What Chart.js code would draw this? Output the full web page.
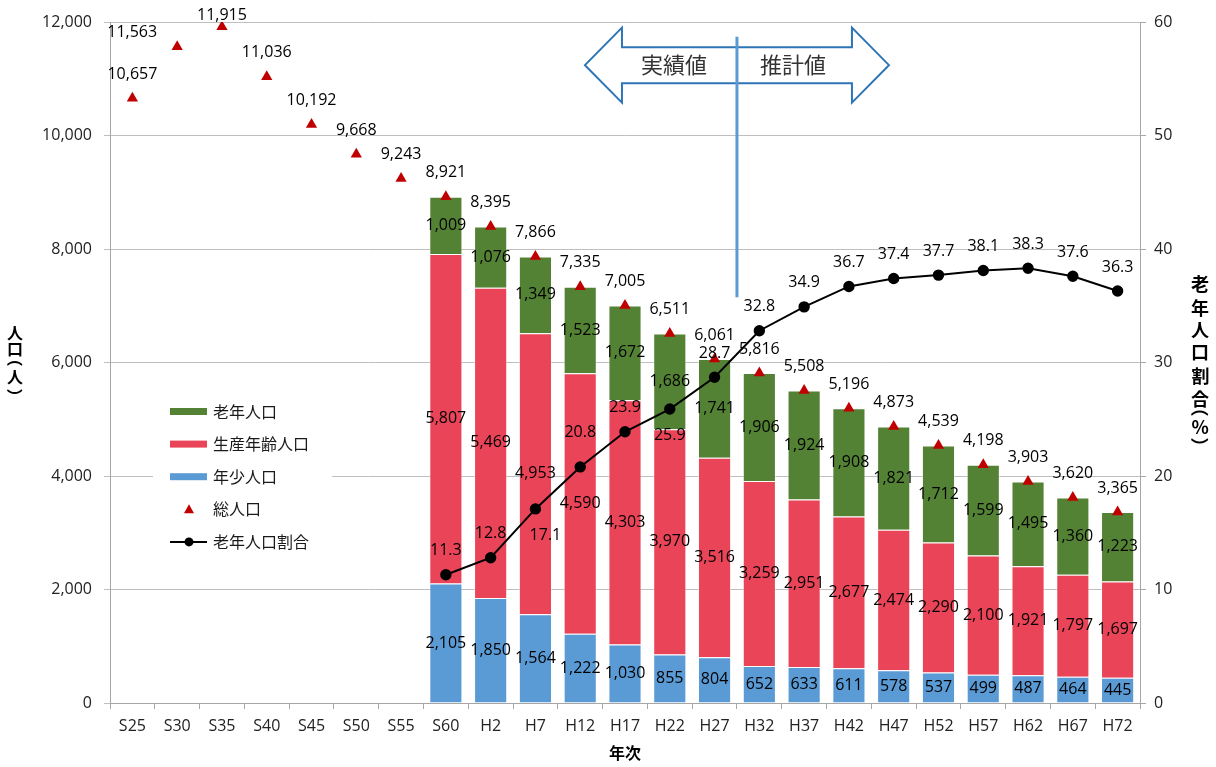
<!DOCTYPE html>
<html lang="ja">
<head>
<meta charset="utf-8">
<script src="https://cdn.jsdelivr.net/npm/chart.js@4.4.1/dist/chart.umd.min.js"></script>
<style>
  html, body { margin: 0; padding: 0; background: #fff; }
</style>
</head>
<body>
<canvas id="myChart" width="1216" height="767"></canvas>
<script>
const years = ['S25', 'S30', 'S35', 'S40', 'S45', 'S50', 'S55', 'S60', 'H2', 'H7', 'H12', 'H17',
    'H22', 'H27', 'H32', 'H37', 'H42', 'H47', 'H52', 'H57', 'H62', 'H67', 'H72'];
const total = [10657, 11563, 11915, 11036, 10192, 9668, 9243, 8921, 8395, 7866, 7335, 7005,
    6511, 6061, 5816, 5508, 5196, 4873, 4539, 4198, 3903, 3620, 3365];
const young = [null, null, null, null, null, null, null, 2105, 1850, 1564, 1222, 1030,
    855, 804, 652, 633, 611, 578, 537, 499, 487, 464, 445];
const working = [null, null, null, null, null, null, null, 5807, 5469, 4953, 4590, 4303,
    3970, 3516, 3259, 2951, 2677, 2474, 2290, 2100, 1921, 1797, 1697];
const elderly = [null, null, null, null, null, null, null, 1009, 1076, 1349, 1523, 1672,
    1686, 1741, 1906, 1924, 1908, 1821, 1712, 1599, 1495, 1360, 1223];
const ratio = [null, null, null, null, null, null, null, 11.3, 12.8, 17.1, 20.8, 23.9,
    25.9, 28.7, 32.8, 34.9, 36.7, 37.4, 37.7, 38.1, 38.3, 37.6, 36.3];

const jpFont = '"Noto Sans CJK JP", sans-serif';
const numFont = '"Open Sans", sans-serif';

// value labels, drawn over everything
const valueLabels = {
    id: 'valueLabels',
    afterDatasetsDraw(chart) {
        let ctx = chart.ctx;
        let xs = chart.scales.x, ys = chart.scales.y;

        // 実績値 / 推計値 arrow and the divider line
        let xd = (xs.getPixelForValue(13) + xs.getPixelForValue(14)) / 2;
        let yc = ys.getPixelForValue(11240);
        ctx.save();
        ctx.beginPath();
        ctx.moveTo(xd - 152, yc);
        ctx.lineTo(xd - 115, yc - 37.5);
        ctx.lineTo(xd - 115, yc - 18);
        ctx.lineTo(xd + 115, yc - 18);
        ctx.lineTo(xd + 115, yc - 37.5);
        ctx.lineTo(xd + 152, yc);
        ctx.lineTo(xd + 115, yc + 37.5);
        ctx.lineTo(xd + 115, yc + 18);
        ctx.lineTo(xd - 115, yc + 18);
        ctx.lineTo(xd - 115, yc + 37.5);
        ctx.closePath();
        ctx.fillStyle = '#fff';
        ctx.fill();
        ctx.lineWidth = 2;
        ctx.strokeStyle = '#2E75B6';
        ctx.stroke();
        ctx.fillStyle = '#333';
        ctx.font = '22px ' + jpFont;
        ctx.textAlign = 'center';
        ctx.textBaseline = 'middle';
        ctx.fillText('実績値', xd - 63, yc);
        ctx.fillText('推計値', xd + 56, yc);
        ctx.beginPath();
        ctx.moveTo(xd, ys.getPixelForValue(11740));
        ctx.lineTo(xd, ys.getPixelForValue(7150));
        ctx.lineWidth = 3;
        ctx.strokeStyle = '#5B9BD5';
        ctx.stroke();

        ctx.font = '16px ' + numFont;
        ctx.fillStyle = '#000';
        chart.data.datasets.forEach((ds, di) => {
            let meta = chart.getDatasetMeta(di);
            meta.data.forEach((el, i) => {
                let v = ds.data[i];
                if (v === null) return;
                let x = el.x, y = el.y;
                if (meta.type === 'bar') y = (el.y + el.base) / 2;
                let off = (ds.shift && ds.shift[i]) || (ds.shift && ds.shift.def) || [0, 0];
                let txt = ds.yAxisID === 'y1' ? v.toFixed(1) : v.toLocaleString('en-US');
                ctx.fillText(txt, x + off[0], y + off[1]);
            });
        });
        ctx.restore();
    },
    afterDraw(chart) {
        let ctx = chart.ctx;
        let area = chart.chartArea;
        ctx.save();

        // legend box inside the plot
        let lx = area.left + 43, ly = area.top + 373;
        ctx.fillStyle = '#fff';
        ctx.fillRect(lx, ly, 179, 163);
        let order = [2, 1, 0, 3, 4];
        ctx.font = '16px ' + jpFont;
        ctx.textBaseline = 'middle';
        ctx.textAlign = 'left';
        order.forEach((di, k) => {
            let ds = chart.data.datasets[di];
            let y = area.top + 389.5 + k * 32.6;
            let sx = area.left + 60;
            if (ds.type === 'bar') {
                ctx.fillStyle = ds.backgroundColor;
                ctx.fillRect(sx, y - 3.5, 37, 7);
            } else if (ds.showLine === false) {
                ctx.fillStyle = ds.pointBackgroundColor;
                ctx.beginPath();
                ctx.moveTo(sx + 19, y - 5);
                ctx.lineTo(sx + 24, y + 4);
                ctx.lineTo(sx + 14, y + 4);
                ctx.closePath();
                ctx.fill();
            } else {
                ctx.strokeStyle = '#000';
                ctx.lineWidth = 2;
                ctx.beginPath();
                ctx.moveTo(sx, y);
                ctx.lineTo(sx + 37, y);
                ctx.stroke();
                ctx.fillStyle = '#000';
                ctx.beginPath();
                ctx.arc(sx + 19, y, 4.5, 0, Math.PI * 2);
                ctx.fill();
            }
            ctx.fillStyle = '#1a1a1a';
            ctx.fillText(ds.label, sx + 43, y);
        });

        // stacked vertical axis titles
        let cy = (area.top + area.bottom) / 2;
        drawVertical(ctx, '人口（人）', 15, cy, 'bold 16px ' + jpFont, 16, 14);
        drawVertical(ctx, '老年人口割合（%）', 1200, cy, 'bold 18px ' + jpFont, 23, 14);
        ctx.restore();
    }
};

function drawVertical(ctx, text, x, cy, font, step, smallStep) {
    let chars = Array.from(text);
    let small = c => c === '（' || c === '）' || c === '%';
    let len = 0;
    chars.forEach((c, i) => { if (i > 0) len += (small(c) || small(chars[i - 1])) ? smallStep : step; });
    let y = cy - len / 2;
    ctx.font = font;
    ctx.fillStyle = '#000';
    chars.forEach((c, i) => {
        if (i > 0) y += (small(c) || small(chars[i - 1])) ? smallStep : step;
        // centre the ink of each glyph on (x, y)
        ctx.textAlign = 'left';
        ctx.textBaseline = 'alphabetic';
        let m = ctx.measureText(c);
        let cx = (m.actualBoundingBoxRight - m.actualBoundingBoxLeft) / 2;
        let cyy = (m.actualBoundingBoxDescent - m.actualBoundingBoxAscent) / 2;
        ctx.save();
        ctx.translate(x, y);
        if (c === '（' || c === '）') ctx.rotate(Math.PI / 2);
        ctx.fillText(c, -cx, -cyy);
        ctx.restore();
    });
}

let ctx = document.getElementById('myChart').getContext('2d');
let myChart = new Chart(ctx, {
    data: {
        labels: years,
        datasets: [{
            type: 'bar',
            label: '年少人口',
            data: young,
            backgroundColor: '#5B9BD5',
            borderColor: 'rgba(255,255,255,0.45)',
            borderWidth: 1,
            stack: 'pop',
            order: 2,
            barPercentage: 0.74,
            categoryPercentage: 1,
        }, {
            type: 'bar',
            label: '生産年齢人口',
            data: working,
            backgroundColor: '#EA4458',
            borderColor: 'rgba(255,255,255,0.45)',
            borderWidth: 1,
            stack: 'pop',
            order: 2,
            barPercentage: 0.74,
            categoryPercentage: 1,
        }, {
            type: 'bar',
            label: '老年人口',
            data: elderly,
            backgroundColor: '#548235',
            borderColor: 'rgba(255,255,255,0.45)',
            borderWidth: 1,
            stack: 'pop',
            order: 2,
            barPercentage: 0.74,
            categoryPercentage: 1,
        }, {
            type: 'line',
            label: '総人口',
            data: total,
            showLine: false,
            pointStyle: 'triangle',
            pointRadius: 6.5,
            pointBackgroundColor: '#C00000',
            pointBorderColor: '#C00000',
            pointBorderWidth: 0,
            stack: 'total',
            order: 1,
            shift: { def: [0, -24], 1: [-45, -14], 2: [0, -11] },
        }, {
            type: 'line',
            label: '老年人口割合',
            data: ratio,
            yAxisID: 'y1',
            borderColor: '#000',
            borderWidth: 2,
            pointRadius: 4.7,
            pointBackgroundColor: '#000',
            pointBorderColor: '#000',
            order: 0,
            shift: { def: [0, -24], 9: [10, 27], 10: [0, -34], 12: [0, 26] },
        }]
    },
    options: {
        responsive: false,
        animation: false,
        layout: { padding: { top: 22, left: 0, right: 0, bottom: 0 } },
        plugins: {
            legend: { display: false },
            tooltip: { enabled: false },
        },
        scales: {
            x: {
                stacked: true,
                grid: { offset: true, drawOnChartArea: false, tickLength: 6, color: '#a6a6a6' },
                border: { color: '#a6a6a6' },
                ticks: { font: { family: numFont, size: 16 }, color: '#222', padding: 8, maxRotation: 0, autoSkip: false },
                title: { display: true, text: '年次', font: { family: jpFont, size: 16, weight: 'bold' }, color: '#000' },
                afterFit(s) { s.height = 64; }
            },
            y: {
                stacked: true,
                min: 0,
                max: 12000,
                ticks: {
                    stepSize: 2000,
                    font: { family: numFont, size: 16 },
                    color: '#222',
                    padding: 12,
                    callback: v => v.toLocaleString('en-US')
                },
                grid: { color: '#bfbfbf', tickLength: 6 },
                border: { color: '#a6a6a6' },
                afterFit(s) { s.width = 110; }
            },
            y1: {
                position: 'right',
                min: 0,
                max: 60,
                ticks: { stepSize: 10, font: { family: numFont, size: 16 }, color: '#222', padding: 8 },
                grid: { drawOnChartArea: false, tickLength: 6, color: '#a6a6a6' },
                border: { color: '#a6a6a6' },
                afterFit(s) { s.width = 76; }
            }
        }
    },
    plugins: [valueLabels]
});
</script>
</body>
</html>
